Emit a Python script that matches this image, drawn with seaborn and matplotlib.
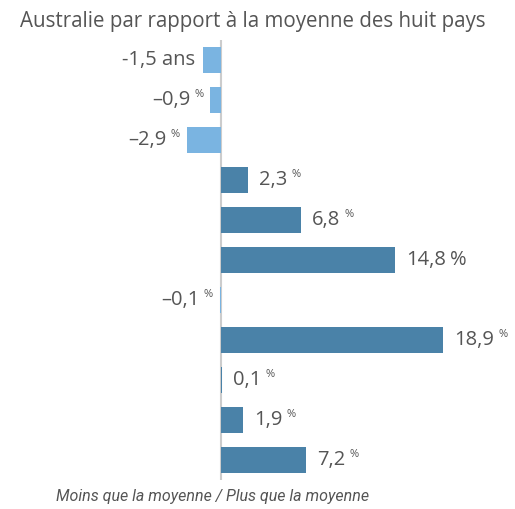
"""Australie par rapport à la moyenne des huit pays."""
import matplotlib
matplotlib.use('Agg')
import matplotlib.pyplot as plt
import pandas as pd
import seaborn as sns

values = [-1.5, -0.9, -2.9, 2.3, 6.8, 14.8, -0.1, 18.9, 0.1, 1.9, 7.2]
number_labels = ['-1,5', '–0,9', '–2,9', '2,3', '6,8', '14,8', '–0,1',
                 '18,9', '0,1', '1,9', '7,2']
units = ['ans', '%', '%', '%', '%', '%', '%', '%', '%', '%', '%']
small_unit = [False, True, True, True, True, False, True, True, True, True, True]

title = 'Australie par rapport à la moyenne des huit pays'
footer = 'Moins que la moyenne / Plus que la moyenne'

neg_color = '#7ab4e1'
pos_color = '#4a82a8'
text_color = '#555555'

sns.set_style('white')
plt.rcParams['font.family'] = ['Open Sans', 'DejaVu Sans']

df = pd.DataFrame({'value': values,
                   'row': [str(i) for i in range(len(values))],
                   'sign': ['neg' if v < 0 else 'pos' for v in values]})

W, H = 515, 509
fig = plt.figure(figsize=(W / 100, H / 100), dpi=100)
# axes covers the bar area: zero at x=221 px, rows from y=40 to 480 px
ax = fig.add_axes([0, (H - 480) / H, 1, 440 / H])
px_per_unit = 11.75

ax.axvline(0, color='#cccccc', lw=1.5, zorder=0)
sns.barplot(data=df, x='value', y='row', hue='sign', orient='h',
            palette={'neg': neg_color, 'pos': pos_color},
            width=0.65, legend=False, saturation=1, ax=ax, zorder=2,
            edgecolor='none', linewidth=0)

ax.set_xlim(-221 / px_per_unit, (W - 221) / px_per_unit)
ax.set_ylim(len(values) - 0.5, -0.5)
ax.set_axis_off()

big = 14.5
for i, (v, num, unit, small) in enumerate(zip(values, number_labels, units,
                                               small_unit)):
    if unit == 'ans':
        ax.annotate(f'{num} {unit}', xy=(v, i), xytext=(-6, 0),
                    textcoords='offset points', ha='right', va='center',
                    fontsize=big, color=text_color)
        continue
    size = 8 if small else big
    if v < 0:
        pct = ax.annotate(unit, xy=(v, i), xytext=(-5, 4 if small else 0),
                          textcoords='offset points', ha='right',
                          va='center', fontsize=size, color=text_color)
        ax.annotate(num, xy=(0, 0.5), xycoords=pct, xytext=(-3, -4),
                    textcoords='offset points', ha='right', va='center',
                    fontsize=big, color=text_color)
    else:
        txt = ax.annotate(num, xy=(v, i), xytext=(8, 0),
                          textcoords='offset points', ha='left',
                          va='center', fontsize=big, color=text_color)
        ax.annotate(unit, xy=(1, 0.5), xycoords=txt,
                    xytext=(3, 4 if small else 0),
                    textcoords='offset points', ha='left', va='center',
                    fontsize=size, color=text_color)

fig.text(253 / W, 1 - 21 / H, title, ha='center', va='center',
         fontsize=14.8, color=text_color)
fig.text(213 / W, 1 - 497 / H, footer, ha='center', va='center',
         fontsize=11.5, color=text_color, style='italic',
         family=['Roboto', 'DejaVu Sans'])

fig.savefig('out.png', dpi=100)
